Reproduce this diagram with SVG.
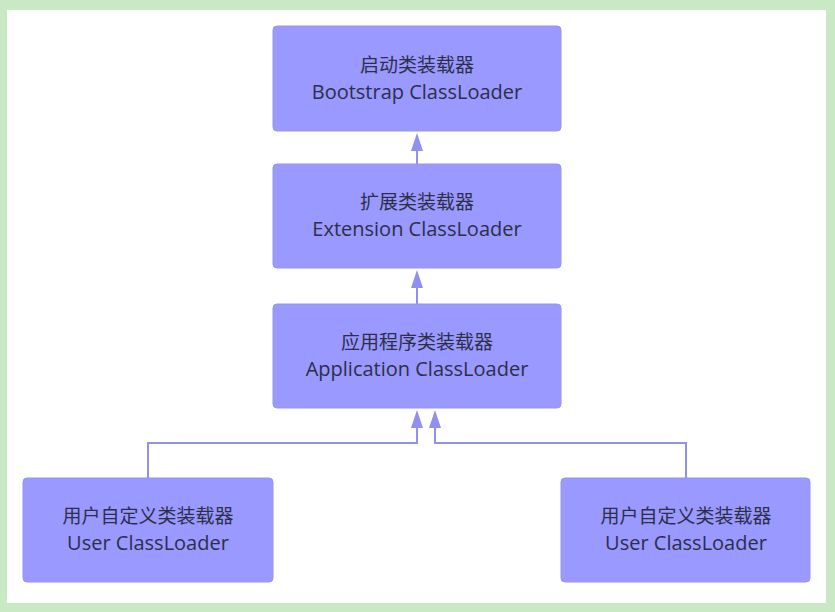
<svg xmlns="http://www.w3.org/2000/svg" width="835" height="612" viewBox="0 0 835 612">
<defs>
<style>
.node rect{fill:#9999ff;stroke:#9494f2;stroke-width:1}
.zh{font-family:"Noto Sans CJK SC","Noto Sans",sans-serif;font-size:19px;fill:#2e2e48;text-anchor:middle}
.en{font-family:"Open Sans","Noto Sans",sans-serif;font-size:20px;fill:#2e2e48;text-anchor:middle}
.conn path{fill:none;stroke:#9090ee;stroke-width:2}
.head path{fill:#9090ee}
</style>
</defs>
<rect x="0" y="0" width="835" height="612" fill="#c9e9c5"/>
<rect x="7" y="10" width="819" height="593" fill="#ffffff"/>
<g class="conn">
<path d="M417,164 L417,140"/>
<path d="M417,304 L417,277"/>
<path d="M148,478 L148,443 L417,443 L417,420"/>
<path d="M686,478 L686,443 L435,443 L435,420"/>
</g>
<g class="head">
<path d="M417,133 L423,151 L411,151 Z"/>
<path d="M417,270 L423,288 L411,288 Z"/>
<path d="M417,410 L423,428 L411,428 Z"/>
<path d="M435,410 L441,428 L429,428 Z"/>
</g>
<g id="bootstrap" class="node">
<rect x="273" y="26" width="288" height="105" rx="4"/>
<text class="zh" x="417" y="72">启动类装载器</text>
<text class="en" x="417" y="99">Bootstrap ClassLoader</text>
</g>
<g id="extension" class="node">
<rect x="273" y="164" width="288" height="104" rx="4"/>
<text class="zh" x="417" y="209">扩展类装载器</text>
<text class="en" x="417" y="236">Extension ClassLoader</text>
</g>
<g id="application" class="node">
<rect x="273" y="304" width="288" height="104" rx="4"/>
<text class="zh" x="417" y="349">应用程序类装载器</text>
<text class="en" x="417" y="376">Application ClassLoader</text>
</g>
<g id="user1" class="node">
<rect x="23" y="478" width="250" height="104" rx="4"/>
<text class="zh" x="148" y="523">用户自定义类装载器</text>
<text class="en" x="148" y="550">User ClassLoader</text>
</g>
<g id="user2" class="node">
<rect x="561" y="478" width="249" height="104" rx="4"/>
<text class="zh" x="686" y="523">用户自定义类装载器</text>
<text class="en" x="686" y="550">User ClassLoader</text>
</g>
</svg>
